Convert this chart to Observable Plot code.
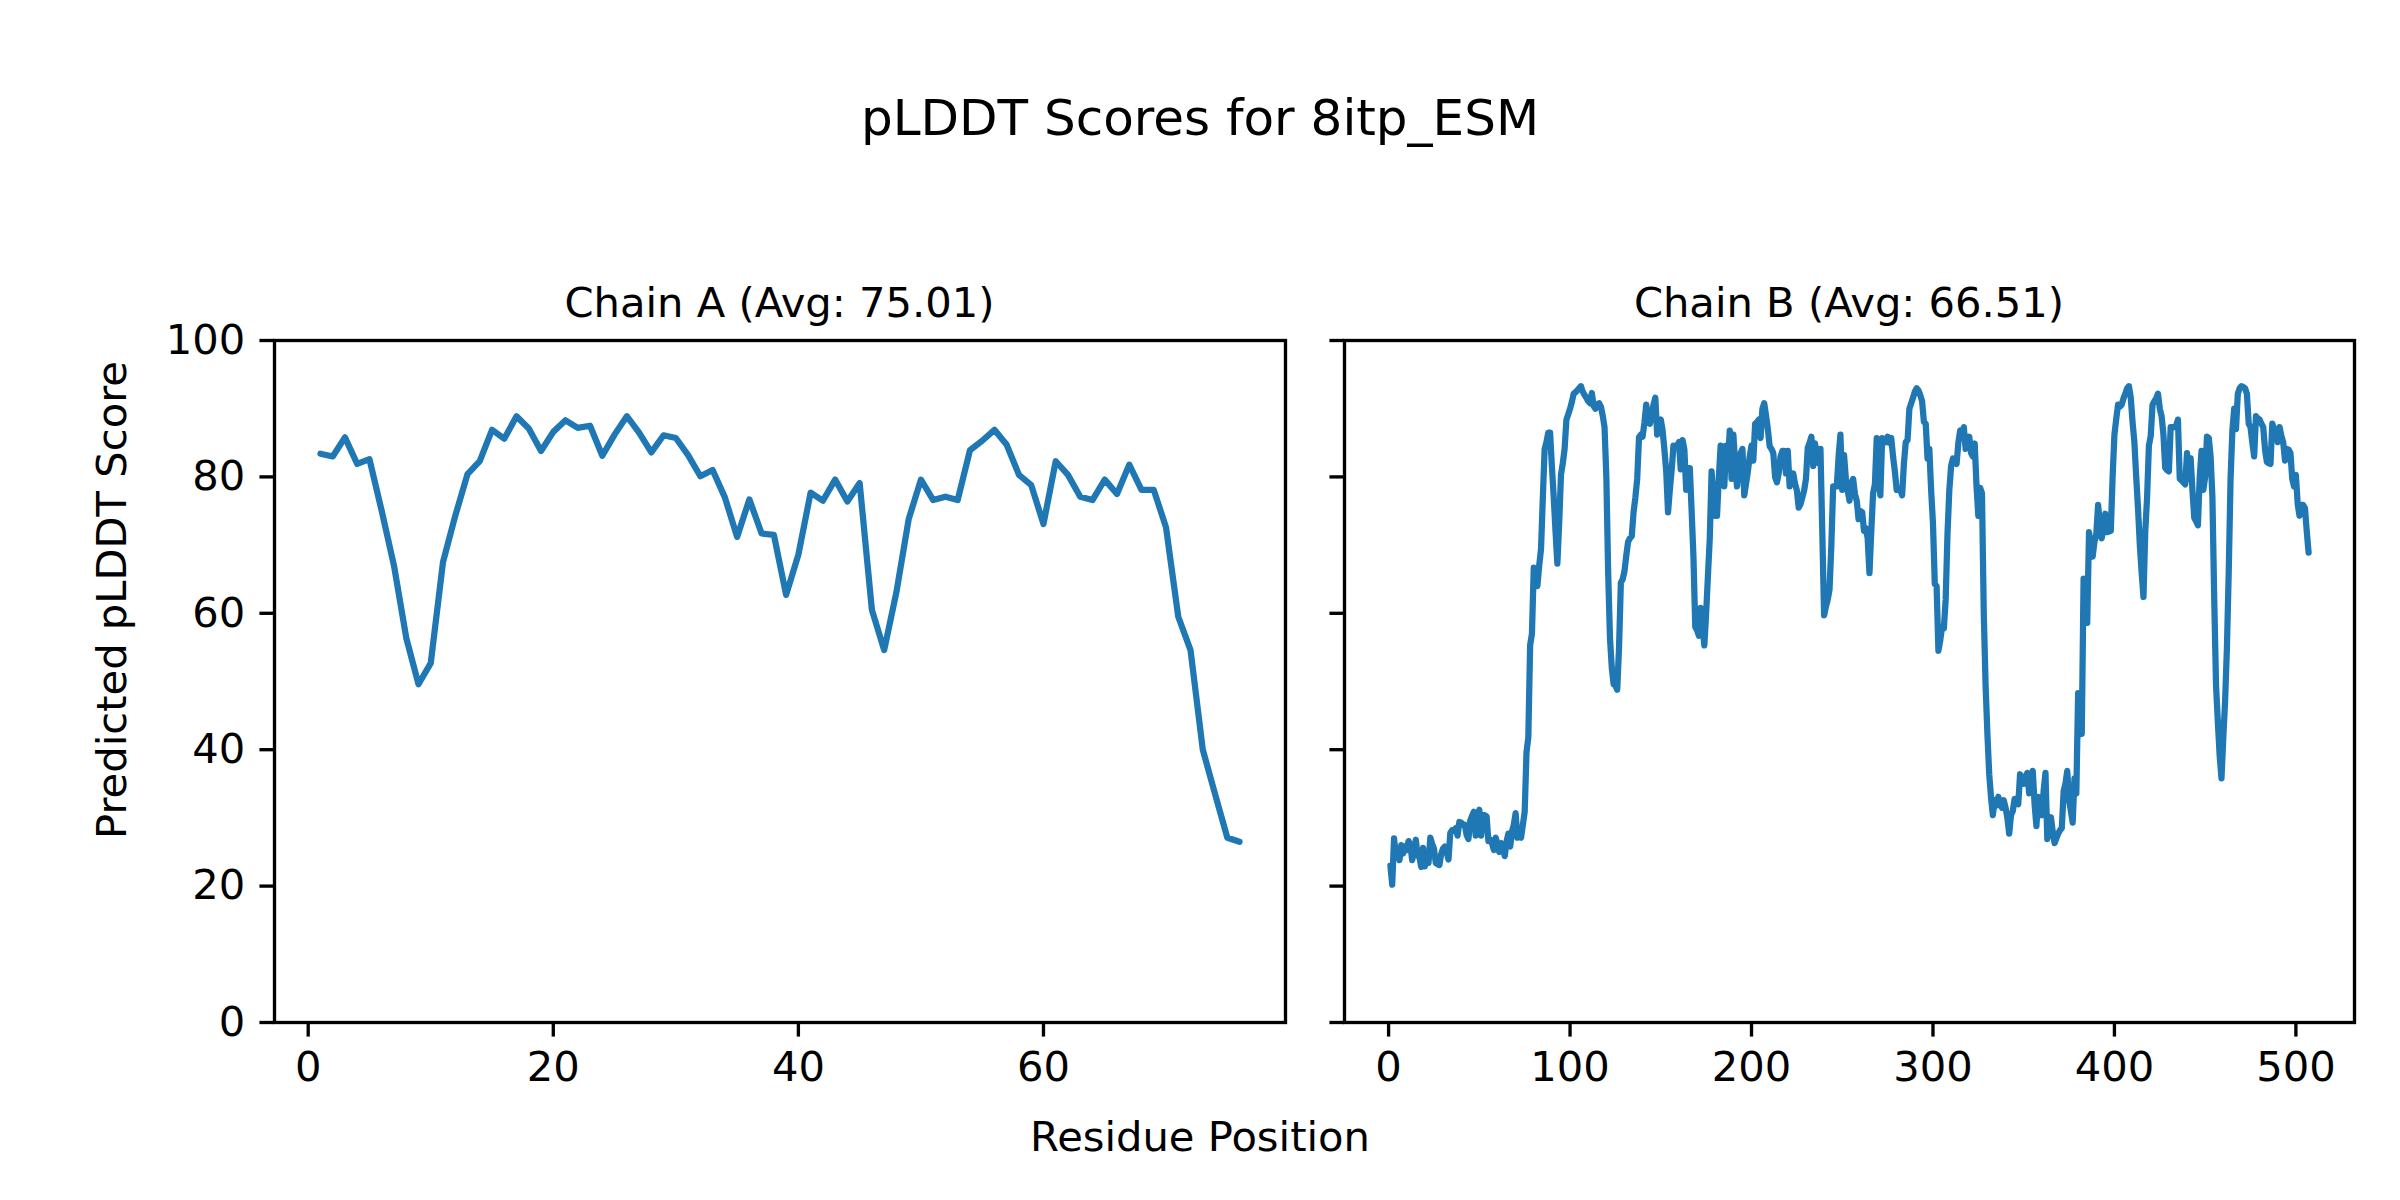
<!DOCTYPE html>
<html>
<head>
<meta charset="utf-8">
<script src="https://cdn.jsdelivr.net/npm/d3@7"></script>
<script src="https://cdn.jsdelivr.net/npm/@observablehq/plot@0.6"></script>
<style>
  html, body { margin: 0; padding: 0; background: #ffffff; }
  #root { position: relative; width: 2400px; height: 1200px; background: #ffffff; overflow: hidden;
          font-family: "DejaVu Sans", sans-serif; color: #000; }
  .txt { position: absolute; white-space: nowrap; line-height: 1; }
  .panel { position: absolute; }
</style>
</head>
<body>
<div id="root"></div>
<script>
// ---------------- data ----------------
const figureTitle = "pLDDT Scores for 8itp_ESM";
const chainTitles = ["Chain A (Avg: 75.01)", "Chain B (Avg: 66.51)"];
const xLabel = "Residue Position";
const yLabel = "Predicted pLDDT Score";

const xTicksA = [0, 20, 40, 60];
const xTicksB = [0, 100, 200, 300, 400, 500];
const yTicks = [0, 20, 40, 60, 80, 100];

// Chain A, residues 1..76
const scoresA = [
  83.4, 83.0, 85.8, 81.9, 82.6, 75.0, 67.0, 56.4, 49.6, 52.7,
  67.5, 74.3, 80.4, 82.3, 86.9, 85.6, 88.9, 87.1, 83.8, 86.6,
  88.3, 87.2, 87.5, 83.1, 86.2, 88.9, 86.5, 83.6, 86.1, 85.7,
  83.2, 80.1, 81.0, 77.0, 71.2, 76.7, 71.7, 71.5, 62.7, 68.6,
  77.7, 76.5, 79.6, 76.4, 79.1, 60.5, 54.6, 63.1, 73.8, 79.6,
  76.6, 77.1, 76.6, 83.9, 85.3, 86.9, 84.7, 80.3, 78.8, 73.1,
  82.3, 80.3, 77.1, 76.6, 79.6, 77.5, 81.8, 78.1, 78.1, 72.6,
  59.5, 54.6, 40.0, 33.5, 27.1, 26.5
];

// Chain B, residues 1..507
const scoresB = [
  // 1-50
  23.0, 20.2, 27.0, 24.5, 25.5, 23.8, 26.0, 24.8, 25.8, 25.3,
  26.6, 26.0, 23.8, 25.2, 26.8, 24.5, 24.2, 22.8, 25.6, 22.9,
  25.0, 23.4, 27.1, 26.2, 25.5, 23.4, 23.2, 23.1, 24.7, 25.5,
  25.8, 25.0, 23.9, 27.8, 28.2, 28.1, 28.5, 27.4, 29.4, 29.3,
  29.0, 29.0, 27.5, 26.9, 29.6, 30.3, 30.9, 27.4, 30.0, 31.2,
  // 51-100
  27.4, 30.4, 30.4, 30.2, 26.6, 26.8, 26.3, 25.3, 27.1, 26.2,
  25.0, 26.3, 25.5, 24.4, 26.5, 27.7, 25.8, 28.0, 29.0, 30.7,
  27.1, 27.2, 27.1, 29.0, 30.9, 39.6, 41.8, 55.3, 57.0, 66.7,
  66.5, 64.0, 67.0, 69.4, 77.0, 84.1, 85.1, 86.5, 86.5, 81.5,
  77.0, 72.0, 67.3, 73.2, 80.3, 82.0, 84.1, 88.4, 89.2, 90.0,
  // 101-150
  91.0, 92.2, 92.4, 92.7, 93.0, 93.3, 92.5, 92.0, 91.6, 91.1,
  90.8, 92.3, 90.4, 90.0, 90.6, 90.8, 90.3, 89.0, 87.3, 80.0,
  66.0, 56.4, 52.0, 49.6, 49.4, 48.8, 55.0, 64.5, 65.0, 66.2,
  68.5, 70.5, 71.0, 71.3, 74.8, 77.0, 79.7, 85.8, 86.2, 85.9,
  88.0, 90.6, 88.5, 87.8, 89.0, 90.6, 91.6, 86.2, 88.0, 88.4,
  // 151-200
  86.8, 84.0, 80.8, 74.8, 78.1, 81.0, 84.6, 84.4, 84.6, 85.1,
  81.1, 85.4, 84.0, 78.1, 81.3, 81.3, 75.0, 68.3, 58.0, 57.5,
  56.7, 60.8, 58.0, 55.3, 60.0, 65.6, 71.0, 80.8, 77.0, 74.3,
  74.3, 80.0, 84.6, 80.0, 78.6, 84.6, 82.0, 86.8, 79.7, 86.2,
  82.0, 78.6, 81.0, 83.5, 84.1, 77.3, 79.0, 80.8, 83.0, 84.6,
  // 201-250
  82.4, 87.8, 88.0, 88.4, 85.7, 90.0, 90.8, 89.0, 87.0, 84.5,
  84.1, 83.5, 80.0, 79.2, 80.5, 83.0, 83.8, 83.8, 80.5, 83.8,
  78.6, 80.5, 80.5, 79.0, 78.0, 75.5, 76.0, 77.0, 78.0, 79.7,
  84.3, 85.0, 85.9, 81.6, 84.9, 83.0, 82.0, 84.1, 72.0, 59.7,
  61.0, 62.0, 63.5, 70.0, 78.6, 78.6, 78.6, 83.0, 86.2, 78.1,
  // 251-300
  83.2, 79.7, 78.0, 76.5, 79.0, 79.7, 77.5, 76.5, 73.8, 75.0,
  74.8, 72.1, 72.5, 71.0, 65.9, 72.0, 77.6, 78.9, 85.7, 80.0,
  77.3, 85.7, 85.5, 85.1, 85.9, 85.0, 85.7, 83.0, 80.8, 78.1,
  78.1, 78.1, 77.3, 82.0, 85.1, 85.4, 90.0, 90.8, 91.6, 92.5,
  93.0, 92.7, 92.0, 91.1, 88.1, 87.8, 82.7, 84.1, 78.0, 73.2,
  // 301-350
  64.3, 64.0, 54.5, 56.0, 58.0, 57.8, 62.0, 71.6, 78.0, 81.6,
  82.7, 82.3, 81.9, 85.0, 86.8, 86.0, 87.3, 84.1, 85.0, 85.9,
  83.5, 83.0, 84.9, 78.6, 74.3, 78.4, 77.6, 60.0, 49.4, 42.3,
  36.4, 33.0, 30.4, 32.6, 31.8, 33.1, 32.0, 31.5, 32.6, 31.5,
  30.0, 27.7, 30.4, 31.0, 32.8, 32.5, 32.0, 36.4, 35.5, 35.0,
  // 351-400
  36.0, 36.6, 33.6, 34.5, 36.9, 32.0, 28.8, 33.1, 31.0, 30.4,
  34.0, 36.6, 26.9, 28.5, 30.1, 28.0, 26.3, 27.0, 27.7, 28.2,
  28.5, 33.9, 35.0, 36.9, 32.6, 31.0, 29.3, 35.8, 33.6, 48.3,
  44.0, 42.3, 65.1, 64.5, 58.6, 71.9, 70.0, 68.3, 70.5, 71.6,
  75.9, 73.0, 71.0, 72.5, 74.6, 71.9, 72.0, 72.1, 80.0, 86.2,
  // 401-450
  88.5, 90.6, 90.3, 90.6, 91.5, 92.2, 93.0, 93.3, 91.6, 88.0,
  85.1, 80.0, 75.4, 70.0, 66.0, 62.4, 72.0, 77.0, 84.6, 86.0,
  90.6, 91.1, 91.5, 92.2, 90.0, 88.9, 86.2, 81.3, 81.0, 80.8,
  87.3, 87.3, 87.3, 87.5, 88.4, 79.7, 79.5, 79.2, 78.9, 83.5,
  79.7, 82.7, 78.0, 74.0, 73.5, 72.9, 80.0, 83.8, 78.1, 80.0,
  // 451-507
  85.9, 85.7, 83.0, 77.0, 62.0, 49.4, 44.0, 39.1, 35.8, 41.8,
  47.2, 55.0, 66.2, 79.7, 86.8, 90.0, 87.0, 92.2, 93.0, 93.3,
  93.2, 93.0, 92.2, 87.8, 87.3, 85.0, 83.0, 88.9, 88.6, 88.4,
  87.8, 87.3, 84.0, 82.2, 82.0, 81.9, 87.8, 87.0, 86.8, 85.1,
  87.3, 86.0, 85.1, 82.4, 84.1, 84.0, 83.5, 79.7, 78.6, 80.3,
  76.0, 74.3, 75.9, 75.9, 75.4, 72.0, 68.9
];

// ---------------- build ----------------
const root = document.getElementById("root");
const FONT = "DejaVu Sans, sans-serif";
const LINE = "#1f77b4";
const S = 300 / 72; // px per point at 300 dpi

function toRows(scores) { return scores.map((s, i) => ({pos: i + 1, score: s})); }
function paddedDomain(n) { const m = (n - 1) * 0.05; return [1 - m, n + m]; }

function addText(str, opts) {
  const d = document.createElement("div");
  d.className = "txt";
  d.textContent = str;
  d.style.fontSize = opts.size + "px";
  if (opts.rotate) {
    d.style.left = opts.cx + "px";
    d.style.top = opts.cy + "px";
    d.style.transform = "translate(-50%, -50%) rotate(-90deg)";
  } else {
    d.style.left = opts.cx + "px";
    d.style.top = opts.cy + "px";
    d.style.transform = "translate(-50%, -50%)";
  }
  root.appendChild(d);
}

function panel({scores, xTicks, showYLabels, marginLeft, frameWidth}) {
  const mt = 10, mb = 80, mr = 10, frameHeight = 682;
  return Plot.plot({
    width: marginLeft + frameWidth + mr,
    height: mt + frameHeight + mb,
    marginTop: mt, marginBottom: mb, marginLeft, marginRight: mr,
    x: {domain: paddedDomain(scores.length)},
    y: {domain: [0, 100]},
    style: {fontFamily: FONT, fontSize: (10 * S) + "px", background: "transparent", overflow: "visible", color: "#000"},
    marks: [
      Plot.line(toRows(scores), {x: "pos", y: "score", stroke: LINE, strokeWidth: 1.5 * S, strokeLinejoin: "round"}),
      Plot.frame({stroke: "#000", strokeWidth: 0.8 * S}),
      Plot.axisX({ticks: xTicks, tickSize: 3.5 * S, tickPadding: 3.5 * S, strokeWidth: 0.8 * S,
                  fontSize: 10 * S, label: null, tickFormat: d => String(d)}),
      Plot.axisY({ticks: yTicks, tickSize: 3.5 * S, tickPadding: 3.5 * S, strokeWidth: 0.8 * S,
                  fontSize: 10 * S, label: null, tickFormat: showYLabels ? (d => String(d)) : (() => "")})
    ]
  });
}

function place(svg, left, top) {
  const w = document.createElement("div");
  w.className = "panel";
  w.style.left = left + "px";
  w.style.top = top + "px";
  w.appendChild(svg);
  root.appendChild(w);
}

const panelTop = 330;
place(panel({scores: scoresA, xTicks: xTicksA, showYLabels: true, marginLeft: 274, frameWidth: 1011}), 0, panelTop);
place(panel({scores: scoresB, xTicks: xTicksB, showYLabels: false, marginLeft: 20, frameWidth: 1010}), 1324, panelTop);

addText(figureTitle, {cx: 1200, cy: 118, size: 12 * S});
addText(chainTitles[0], {cx: 779.5, cy: 303, size: 10 * S});
addText(chainTitles[1], {cx: 1849, cy: 303, size: 10 * S});
addText(xLabel, {cx: 1200, cy: 1137, size: 10 * S});
addText(yLabel, {cx: 112, cy: 600, size: 10 * S, rotate: true});
</script>
</body>
</html>
